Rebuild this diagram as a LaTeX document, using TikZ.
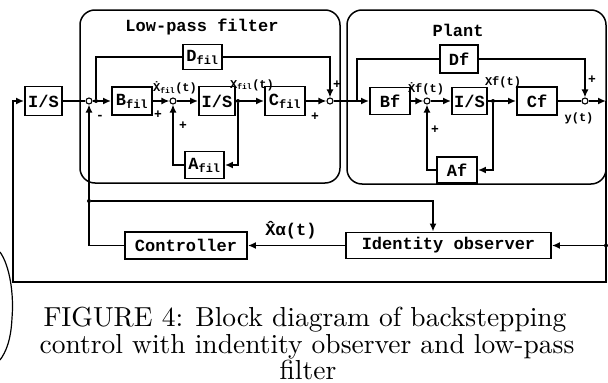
\documentclass[tikz,border=0pt]{standalone}
\usepackage{fontspec}
\newfontfamily\blockfont{Liberation Mono}
\newfontfamily\capfont{lmroman10-regular}[Extension=.otf]
\usetikzlibrary{arrows.meta}

\begin{document}
\begin{tikzpicture}[x=1pt,y=-1pt,
  blk/.style={draw, line width=1.9pt, inner sep=0pt, font=\blockfont\bfseries\fontsize{17}{17}\selectfont},
  sumj/.style={draw, circle, line width=1.1pt, minimum size=6pt, inner sep=0pt, fill=white},
  dotp/.style={circle, fill, minimum size=4pt, inner sep=0pt},
  sig/.style={line width=1.6pt},
  arr/.style={sig, -{Latex[length=8pt,width=7pt]}},
  panel/.style={line width=1.5pt, rounded corners=15pt},
  sgn/.style={font=\blockfont\bfseries\fontsize{13}{13}\selectfont, inner sep=1pt},
  lbl/.style={font=\blockfont\bfseries\fontsize{12}{12}\selectfont, inner sep=0pt},
  capline/.style={anchor=base, inner sep=0pt, font=\capfont\fontsize{27.5}{28}\selectfont}]
\useasboundingbox (0,0) rectangle (608,383);
% panels
\draw[panel] (80,10) rectangle (340,183);
\draw[panel] (347,10) rectangle (606,184);
\node[blk, draw=none] (lptitle) at (202,27) {Low-pass filter};
\node[blk, draw=none] (pltitle) at (458,30) {Plant};
% low-pass filter blocks
\node[blk, minimum width=37pt, minimum height=29pt] (isa) at (43.5,101) {I/S};
\node[sumj] (j1) at (89,101) {};
\node[dotp] (d1) at (96,101) {};
\node[blk, minimum width=40pt, minimum height=28pt] (bfil) at (132,101) {B\textsubscript{fil}};
\node[sumj] (j2) at (173,101) {};
\node[blk, minimum width=36pt, minimum height=29pt] (isb) at (217,101) {I/S};
\node[dotp] (disb) at (238,101) {};
\node[blk, minimum width=40pt, minimum height=29pt] (cfil) at (285,101) {C\textsubscript{fil}};
\node[blk, minimum width=39pt, minimum height=25pt] (dfil) at (202.5,57) {D\textsubscript{fil}};
\node[blk, minimum width=39pt, minimum height=27pt] (afil) at (204.5,165) {A\textsubscript{fil}};
\node[sumj] (j3) at (330,101) {};
% plant blocks
\coordinate (dfb) at (357,101);
\node[blk, minimum width=40pt, minimum height=27pt] (bf) at (390,101) {Bf};
\node[sumj] (j4) at (427,101) {};
\node[blk, minimum width=35pt, minimum height=27pt] (isc) at (469.5,101) {I/S};
\node[dotp] (disc) at (493,101) {};
\node[blk, minimum width=40pt, minimum height=28pt] (cf) at (537,101) {Cf};
\node[blk, minimum width=38pt, minimum height=28pt] (df) at (459,59) {Df};
\node[blk, minimum width=40pt, minimum height=26pt] (af) at (457,170) {Af};
\node[sumj] (jy) at (585,101) {};
\coordinate (yout) at (606,101);
% observer and controller
\node[blk, minimum width=122pt, minimum height=27pt] (ctrl) at (186,245.5) {Controller};
\node[blk, minimum width=205pt, minimum height=26pt] (obs) at (448.5,245.5) {Identity observer};
\node[dotp] (dfb1) at (89,201) {};
\node[dotp] (dobs) at (606,245.5) {};
\coordinate (corbr) at (606,282);
\coordinate (corbl) at (13,282);

% forward path
\draw[sig] (isa) -- (j1);
\draw[arr] (j1) -- (bfil);
\draw[arr] (bfil) -- (j2);
\draw[arr] (j2) -- (isb);
\draw[arr] (isb) -- (cfil);
\draw[arr] (cfil) -- (j3);
\draw[arr] (j3) -- (bf);
\draw[arr] (bf) -- (j4);
\draw[arr] (j4) -- (isc);
\draw[arr] (isc) -- (cf);
\draw[sig] (cf) -- (jy);
\draw[arr] (jy) -- (yout);
% feedthrough and state feedback
\draw[sig] (d1) |- (dfil.west);
\draw[arr] (dfil.east) -| (j3);
\draw[arr] (disb) |- (afil.east);
\draw[arr] (afil.west) -| (j2);
\draw[sig] (dfb) |- (df.west);
\draw[arr] (df.east) -| (jy);
\draw[arr] (disc) |- (af.east);
\draw[arr] (af.west) -| (j4);
% outer loop
\draw[arr] (yout) -- (corbr) -- (corbl) |- (isa.west);
\draw[arr] (dobs) -- (obs.east);
\draw[arr] (obs.west) -- (ctrl.east);
\draw[arr] (ctrl.west) -| (j1);
\draw[arr] (dfb1) -| ([xshift=-15.5pt]obs.north);
% signs
\node[sgn] (s1) at (100,117) {-};
\node[sgn] (s2) at (158,115) {+};
\node[sgn] (s3) at (183,126) {+};
\node[sgn] (s4) at (315,117) {+};
\node[sgn] (s5) at (337,85) {+};
\node[sgn] (s6) at (435,130) {+};
\node[sgn] (s7) at (592,80) {+};
% signal labels
\node[lbl] (lxdf) at (175,88) {\.X\textsubscript{fil}(t)};
\node[lbl] (lxf) at (252,85) {X\textsubscript{fil}(t)};
\node[lbl] (lxdp) at (426,89) {\.Xf(t)};
\node[lbl] (lxp) at (503,82) {Xf(t)};
\node[lbl] (ly) at (579,118) {y(t)};
\node[blk, draw=none] (lxh) at (291,230) {\^Xα(t)};
% scan edge on the left
\draw[line width=1.2pt] (0,252) .. controls (10,266) and (14,295) .. (12,318) .. controls (11,340) and (6,352) .. (0,360);
% caption
\node[capline] (cap1) at (305,326) {FIGURE 4: Block diagram of backstepping};
\node[capline] (cap2) at (307,353) {control with indentity observer and low-pass};
\node[capline] (cap3) at (308,379) {filter};
\end{tikzpicture}
\end{document}
